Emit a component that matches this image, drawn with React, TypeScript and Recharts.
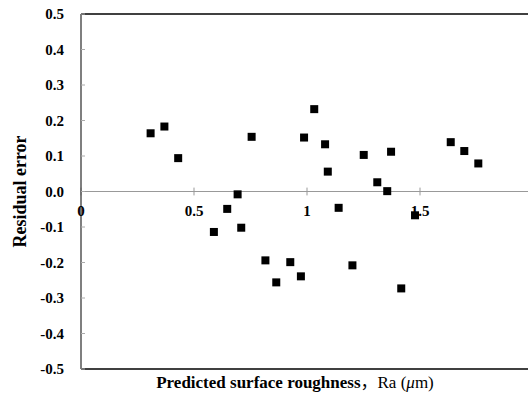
import React from 'react';
import { ScatterChart, Scatter, XAxis, YAxis, ReferenceLine } from 'recharts';

const xValues = [0.308, 0.369, 0.430, 0.755, 1.032, 0.987, 1.080, 1.092, 0.693, 0.647, 0.588, 0.709, 0.816, 0.926, 0.864, 0.973, 1.251, 1.372, 1.311, 1.355, 1.140, 1.478, 1.201, 1.417, 1.636, 1.696, 1.758];
const yValues = [0.164, 0.183, 0.094, 0.154, 0.232, 0.152, 0.133, 0.056, -0.008, -0.049, -0.114, -0.102, -0.194, -0.199, -0.256, -0.239, 0.103, 0.112, 0.026, 0.001, -0.046, -0.067, -0.208, -0.273, 0.139, 0.114, 0.079];
const yTicks = [-0.5, -0.4, -0.3, -0.2, -0.1, 0, 0.1, 0.2, 0.3, 0.4, 0.5];
const xTicks = [0, 0.5, 1, 1.5];
const xTickLabels = ['0', '0.5', '1', '1.5'];

const data = xValues.map((x, i) => ({ x, y: yValues[i] }));

const FONT = '"Liberation Serif", "Times New Roman", serif';

const Square = (props: any) => (
  <rect x={props.cx - 4} y={props.cy - 4} width={8} height={8} fill="#000" />
);

const YTitle = (props: any) => {
  const vb = props.viewBox;
  const cx = vb.x + 20;
  const cy = vb.y + vb.height / 2;
  return (
    <text x={cx} y={cy} transform={`rotate(-90, ${cx}, ${cy})`} textAnchor="middle" dominantBaseline="central"
      fontFamily={FONT} fontWeight="bold" fontSize={18} fill="#000">Residual error</text>
  );
};

const XTitle = (props: any) => {
  const vb = props.viewBox;
  return (
    <text x={vb.x + 214} y={vb.y + 19} textAnchor="middle" fontFamily={FONT} fontSize={17} fill="#000">
      <tspan fontWeight="bold">Predicted surface roughness</tspan>
      <tspan fontFamily='"Noto Sans CJK SC"'>，</tspan>
      <tspan>Ra (</tspan>
      <tspan fontStyle="italic">μ</tspan>
      <tspan>m)</tspan>
    </text>
  );
};

export default function App() {
  return (
    <div style={{ position: 'absolute', left: 0, top: 0, width: 528, height: 401, overflow: 'hidden', background: '#fff' }}>
      <ScatterChart width={540} height={401} margin={{ top: 14, right: 7, bottom: 0, left: 0 }}>
        <XAxis type="number" dataKey="x" domain={[0, 2]} ticks={xTicks} height={32}
          axisLine={{ stroke: '#000', strokeWidth: 1.5 }} tick={false} tickLine={false}
          label={<XTitle />} />
        <YAxis type="number" dataKey="y" domain={[-0.5, 0.5]} ticks={yTicks} width={81}
          axisLine={{ stroke: '#555', strokeWidth: 1.5 }} tickLine={{ stroke: '#aaa' }}
          tickSize={-4} tickMargin={21} interval={0}
          tickFormatter={(v: number) => v.toFixed(1)}
          tick={{ fontFamily: FONT, fontWeight: 'bold', fontSize: 15, fill: '#000' }}
          label={<YTitle />} />
        <ReferenceLine y={0.5} stroke="#000" strokeWidth={1.5} ifOverflow="visible" />
        <ReferenceLine y={0} stroke="#999" strokeWidth={1} />
        {xTicks.map((t, i) => (
          <ReferenceLine key={t} segment={[{ x: t, y: -0.011 }, { x: t, y: 0.011 }]} stroke="#999"
            ifOverflow="visible"
            label={{ value: xTickLabels[i], position: 'bottom', offset: 10, fill: '#000', fontSize: 15, fontWeight: 'bold', fontFamily: FONT }} />
        ))}
        <Scatter data={data} shape={<Square />} isAnimationActive={false} />
      </ScatterChart>
    </div>
  );
}
